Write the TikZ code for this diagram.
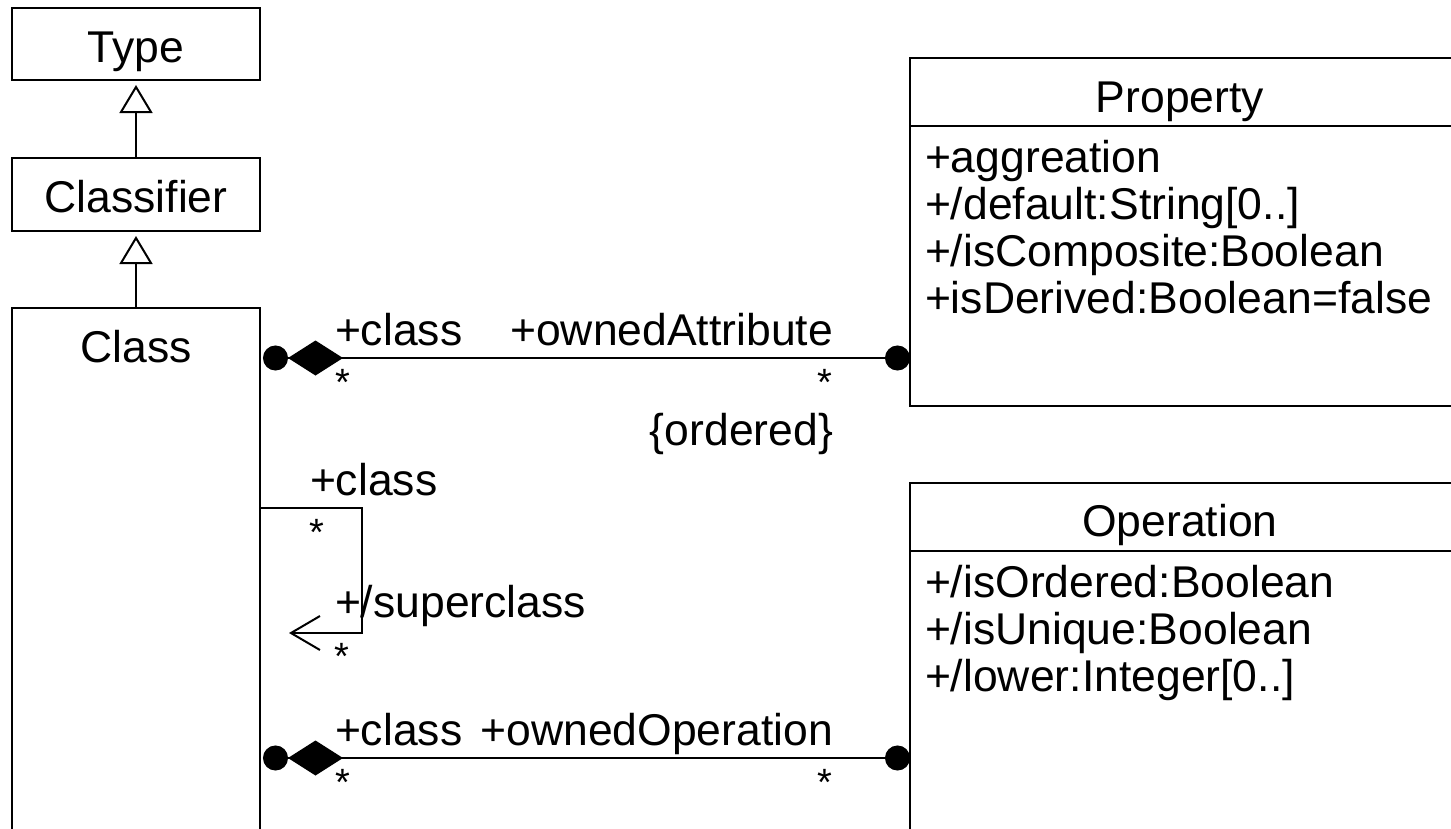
\documentclass[tikz,border=0pt]{standalone}
\usepackage{fontspec}
\setmainfont{Liberation Sans}
\usetikzlibrary{arrows.meta,calc}
\begin{document}
\begin{tikzpicture}[x=1pt,y=-1pt,
  every node/.style={font=\fontsize{44.5}{50}\selectfont, inner sep=0pt, outer sep=0pt},
  box/.style={draw, line width=2pt, rectangle, inner sep=0pt, anchor=north west},
  titled/.style={text height=36pt, text depth=0pt},
  gen/.style={draw, line width=2pt, -{Triangle[open,length=28pt,width=33pt]}, shorten >=5pt},
  comp/.style={draw, line width=2pt, {Circle[length=25pt,sep=3pt]Diamond[length=55pt,width=35pt]}-{Circle[length=25pt]}},
  nav/.style={draw, line width=2pt, -{Straight Barb[length=29pt,width=34pt]}},
  lbl/.style={anchor=base west},
  lble/.style={anchor=base east},
  mult/.style={anchor=base, font=\fontsize{38}{44}\selectfont},
  divider/.style={draw, line width=2pt},
]
\useasboundingbox (0,0) rectangle (1451,828);
\clip (0,0) rectangle (1451,828);

% left hierarchy
\node[box, titled, minimum width=248pt, minimum height=72pt] (type) at (12,8) {Type};
\node[box, titled, minimum width=248pt, minimum height=73pt] (classifier) at (12,158) {Classifier};
\node[box, minimum width=248pt, minimum height=600pt] (class) at (12,308) {};
\node[anchor=base] (classlabel) at (136,362) {Class};

\draw[gen] (classifier.north) -- (type.south);
\draw[gen] (class.north) -- (classifier.south);

% Property
\node[box, minimum width=560pt, minimum height=348pt] (property) at (910,58) {};
\draw[divider] ($(property.north west)+(0,68)$) -- ($(property.north east)+(0,68)$);
\node[anchor=base] (proptitle) at (1180,112) {Property};
\node[lbl] (pa1) at (925,172) {+aggreation};
\node[lbl] (pa2) at (925,219) {+/default:String[0..]};
\node[lbl] (pa3) at (925,266) {+/isComposite:Boolean};
\node[lbl] (pa4) at (925,313) {+isDerived:Boolean=false};

% Operation
\node[box, minimum width=560pt, minimum height=450pt] (operation) at (910,483) {};
\draw[divider] ($(operation.north west)+(0,68)$) -- ($(operation.north east)+(0,68)$);
\node[anchor=base] (optitle) at (1180,536) {Operation};
\node[lbl] (oa1) at (925,597) {+/isOrdered:Boolean};
\node[lbl] (oa2) at (925,644) {+/isUnique:Boolean};
\node[lbl] (oa3) at (925,691) {+/lower:Integer[0..]};

% associations
\coordinate (r1) at (0,358);
\coordinate (r2) at (0,758);
\coordinate (selfA) at (0,508);
\coordinate (selftip) at (289,633);
\draw[comp] (class.east |- r1) -- (property.west |- r1);
\draw[comp] (class.east |- r2) -- (operation.west |- r2);
\draw[nav] (class.east |- selfA) -- ++(102,0) |- (selftip);

% labels
\node[lbl] (c1) at (335,345) {+class};
\node[lble] (oattr) at (833,345) {+ownedAttribute};
\node[mult] (m1) at (343,395) {*};
\node[mult] (m2) at (825,395) {*};
\node[lble] (ord) at (833,445) {\{ordered\}};

\node[lbl] (c2) at (310,495) {+class};
\node[mult] (m3) at (317,545) {*};
\node[lbl] (sup) at (335,617) {+/superclass};
\node[mult] (m4) at (342,669) {*};

\node[lbl] (c3) at (335,745) {+class};
\node[lble] (oop) at (833,745) {+ownedOperation};
\node[mult] (m5) at (343,795) {*};
\node[mult] (m6) at (825,795) {*};
\end{tikzpicture}
\end{document}
